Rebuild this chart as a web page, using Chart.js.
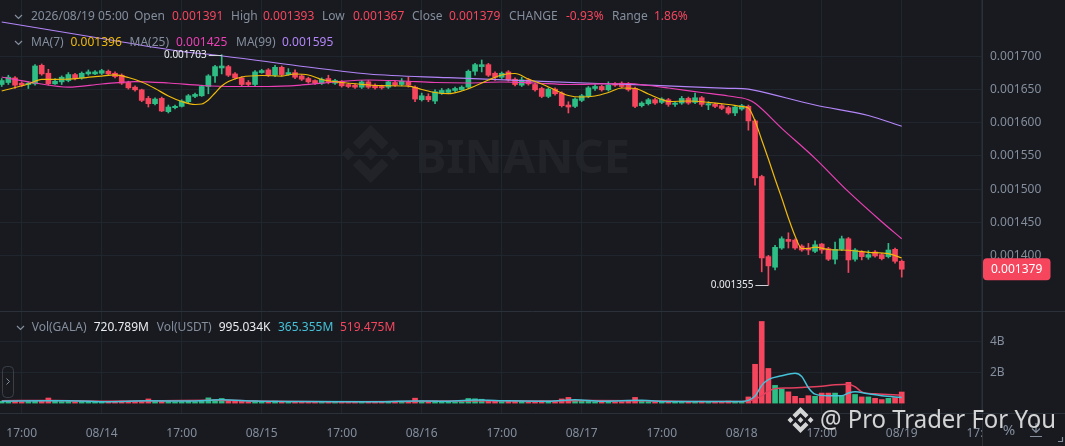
<!DOCTYPE html>
<html><head><meta charset="utf-8">
<script src="https://cdn.jsdelivr.net/npm/chart.js@4/dist/chart.umd.min.js"></script>
<style>html,body{margin:0;padding:0;background:#181a20;overflow:hidden}canvas{display:block}</style>
</head><body>
<canvas id="c" width="1065" height="446"></canvas>
<script>
// ---------- DATA (prices in millionths of USDT, 1h candles 08/13 14:00 .. 08/19 05:00) ----------
const openP  = [1658,1661,1668,1660,1658,1659,1687,1675,1659,1662,1664,1673,1668,1674,1674,1675,1678,1675,1672,1661,
1654,1650,1637,1629,1637,1617,1623,1625,1632,1640,1641,1655,1671,1683,1685,1674,1668,1661,1658,1676,
1680,1672,1684,1673,1676,1671,1667,1664,1660,1667,1660,1662,1658,1657,1654,1662,1657,1655,1654,1661,
1658,1662,1654,1635,1640,1633,1645,1646,1649,1650,1654,1678,1685,1688,1675,1669,1677,1666,1657,1665,
1658,1652,1640,1651,1645,1627,1625,1634,1640,1652,1655,1650,1659,1660,1659,1652,1626,1629,1635,1631,
1635,1628,1630,1637,1631,1638,1627,1628,1626,1623,1615,1621,1625,1603,1519,1398,1382,1411,1424,1423,
1414,1411,1406,1417,1410,1394,1409,1425,1394,1405,1397,1405,1401,1398,1409,1391];
const highP  = [1667,1672,1670,1662,1662,1688,1689,1681,1667,1671,1676,1675,1677,1680,1679,1681,1680,1677,1674,1663,
1656,1651,1640,1638,1639,1627,1627,1635,1643,1645,1657,1673,1687,1703,1687,1676,1670,1664,1679,1681,
1682,1687,1686,1682,1680,1673,1669,1665,1668,1672,1666,1664,1660,1659,1664,1664,1659,1657,1664,1663,
1667,1669,1656,1645,1644,1650,1652,1652,1654,1656,1680,1690,1695,1690,1677,1677,1679,1668,1669,1667,
1660,1654,1653,1653,1647,1632,1638,1643,1655,1658,1657,1662,1661,1662,1661,1654,1632,1637,1637,1638,
1637,1632,1640,1639,1645,1640,1632,1630,1628,1625,1626,1628,1627,1605,1521,1400,1415,1428,1434,1425,
1416,1418,1422,1418,1412,1420,1429,1427,1410,1407,1407,1407,1403,1418,1411,1393];
const lowP   = [1655,1658,1652,1655,1652,1657,1672,1657,1658,1658,1662,1665,1666,1672,1673,1673,1672,1668,1658,1651,
1648,1632,1624,1627,1617,1615,1621,1624,1630,1638,1640,1644,1661,1674,1670,1666,1656,1655,1656,1675,
1670,1670,1671,1672,1667,1664,1660,1658,1658,1659,1658,1654,1653,1652,1652,1652,1651,1651,1652,1655,
1656,1654,1632,1633,1632,1629,1643,1644,1647,1649,1652,1672,1677,1670,1664,1667,1663,1656,1655,1657,
1648,1638,1638,1642,1624,1615,1623,1632,1638,1649,1648,1648,1655,1653,1648,1623,1624,1627,1628,1629,
1625,1625,1628,1628,1629,1625,1620,1623,1620,1613,1611,1619,1589,1506,1375,1355,1378,1409,1411,1409,
1406,1401,1404,1403,1392,1387,1407,1374,1391,1393,1394,1397,1393,1396,1388,1367];
const closeP = [1664,1669,1657,1657,1660,1686,1674,1659,1663,1669,1673,1667,1675,1677,1677,1679,1674,1670,1660,1653,
1650,1634,1629,1636,1618,1624,1625,1633,1641,1643,1655,1671,1685,1686,1672,1668,1658,1658,1677,1679,
1672,1684,1673,1676,1669,1666,1662,1660,1666,1661,1664,1656,1655,1654,1662,1654,1653,1653,1662,1657,
1663,1657,1636,1641,1635,1647,1649,1650,1652,1654,1678,1688,1688,1672,1669,1675,1665,1658,1665,1659,
1650,1640,1651,1644,1626,1624,1636,1641,1653,1655,1650,1657,1657,1655,1650,1625,1630,1635,1630,1636,
1628,1630,1637,1630,1638,1628,1629,1625,1622,1615,1624,1626,1603,1517,1396,1384,1412,1425,1421,1411,
1408,1408,1416,1408,1394,1409,1425,1393,1408,1398,1401,1399,1395,1408,1391,1379];
// volume in billions GALA
const volumeB = [0.12,0.10,0.14,0.09,0.11,0.18,0.15,0.33,0.14,0.10, 0.12,0.09,0.11,0.08,0.07,0.09,0.08,0.10,0.13,0.12,
0.10,0.16,0.27,0.12,0.18,0.11,0.08,0.10,0.12,0.09, 0.16,0.34,0.22,0.30,0.17,0.12,0.14,0.09,0.15,0.08,
0.10,0.13,0.11,0.08,0.10,0.09,0.11,0.08,0.09,0.10, 0.07,0.09,0.08,0.07,0.10,0.09,0.07,0.06,0.09,0.08,
0.10,0.11,0.32,0.14,0.12,0.15,0.09,0.08,0.07,0.09, 0.30,0.28,0.25,0.18,0.12,0.10,0.14,0.11,0.12,0.09,
0.11,0.15,0.13,0.10,0.27,0.37,0.18,0.12,0.14,0.09, 0.10,0.12,0.08,0.09,0.12,0.37,0.15,0.10,0.09,0.08,
0.10,0.08,0.09,0.10,0.11,0.12,0.08,0.09,0.10,0.13, 0.11,0.09,0.40,2.52,5.30,2.25,1.15,0.90,0.73,0.44,
0.31,0.48,0.44,0.65,0.65,0.65,0.48,1.35,0.56,0.40, 0.40,0.31,0.23,0.31,0.35,0.72];
// moving-average lines: [candle index, value]
const ma7 = [[0,1648.2],[4,1658.8],[6,1665.6],[9,1665.9],[12,1667.8],[15,1670.8],[17,1672.4],[19,1668.6],[21,1661.8],[23,1652],
[25,1640.6],[27,1632.3],[29,1627.8],[30,1628.5],[31,1634.6],[32,1645.2],[33,1655.7],[34,1662.5],[36,1669.3],[39,1671.6],
[42,1670.8],[44,1673.9],[46,1672.4],[48,1665.6],[51,1661],[54,1658.3],[57,1656.2],[61,1655.7],[63,1650.5],[65,1645.9],
[67,1644.1],[69,1648.2],[71,1655.7],[73,1664.8],[75,1672.4],[77,1674.6],[79,1666.3],[81,1658.8],[83,1649.7],[85,1641.4],
[87,1639.1],[89,1640.6],[91,1645.9],[93,1652.7],[95,1652],[97,1643.7],[99,1635.3],[100,1632.3],[103,1633.1],[106,1631.1],
[109,1627.8],[111,1624.8],[112,1622.5],[113,1602.9],[114,1574.2],[115,1545.5],[116,1515.3],[117,1486.6],[118,1456.4],[119,1429.1],
[120,1410.3],[121,1410.3],[122,1412.5],[124,1408.8],[127,1407.6],[130,1404.5],[133,1402.4],[135,1396]];
const ma25 = [[0,1669.3],[5,1660.3],[10,1654.1],[15,1658.8],[20,1662.5],[25,1660.3],[30,1656.5],[35,1655],[40,1655],[45,1657.3],
[50,1661.8],[55,1664.8],[60,1663.3],[65,1661],[70,1660.3],[75,1661.8],[80,1660.3],[85,1658],[90,1658.8],[94,1659.5],
[97,1656.5],[100,1652.7],[105,1645.9],[109,1640.6],[112,1635],[113,1629.6],[117,1591.8],[122,1546.5],[127,1496.1],[132,1450.7],[135,1425]];
const ma99 = [[0,1752.4],[15,1727.5],[27,1707.9],[32,1702.6],[43,1688.2],[55,1673.9],[67,1668.3],[82,1662.2],[96,1657.3],
[109,1652.3],[112,1651],[113,1649.2],[122,1627],[130,1611.2],[135,1595]];
const volMa5 = [[0,0.12],[6,0.15],[10,0.16],[16,0.09],[22,0.15],[28,0.13],[33,0.22],[38,0.13],[45,0.10],[55,0.08],[62,0.14],[66,0.12],
[71,0.20],[76,0.15],[82,0.12],[86,0.22],[90,0.12],[96,0.18],[100,0.10],[108,0.10],[111,0.11],[112,0.18],[113,0.46],[114,1.15],
[115,1.52],[117,1.77],[119,1.94],[120,1.73],[121,1.0],[122,0.58],[124,0.48],[126,0.48],[127,0.65],[128,0.73],[130,0.60],[132,0.48],[135,0.365]];
const volMa10 = [[0,0.16],[8,0.17],[15,0.12],[24,0.15],[32,0.18],[40,0.12],[50,0.09],[60,0.10],[66,0.13],[74,0.16],[80,0.13],
[88,0.17],[96,0.16],[104,0.11],[111,0.11],[112,0.15],[113,0.25],[114,0.48],[115,0.77],[116,0.94],[118,0.98],[120,1.02],
[123,1.10],[125,1.19],[127,1.23],[128,1.06],[129,0.73],[131,0.60],[135,0.519]];
// tick labels
const timeTickIdx = [3,15,27,39,51,63,75,87,99,111,123,135,147];
const timeTickLabels = ['17:00','08/14','17:00','08/15','17:00','08/16','17:00','08/17','17:00','08/18','17:00','08/19','17:00'];
const priceTicks = [0.0014,0.00145,0.0015,0.00155,0.0016,0.00165,0.0017];
const priceTickLabels = ['0.001400','0.001450','0.001500','0.001550','0.001600','0.001650','0.001700'];
const volTicks = [2e9,4e9];
const volTickLabels = ['2B','4B'];
// header texts
const header1 = [['2026/08/19 05:00',31,'g'],['Open',134,'g'],['0.001391',172,'r'],['High',231,'g'],['0.001393',263,'r'],
['Low',322,'g'],['0.001367',353,'r'],['Close',412,'g'],['0.001379',449,'r'],['CHANGE',509,'g'],['-0.93%',566,'r'],['Range',612,'g'],['1.86%',654,'r']];
const header2 = [['MA(7)',31,'g'],['0.001396',70.5,'y'],['MA(25)',129.5,'g'],['0.001425',176,'p'],['MA(99)',236,'g'],['0.001595',282,'v']];
const header3 = [['Vol(GALA)',31.7,'g'],['720.789M',93.7,'w'],['Vol(USDT)',156.7,'g'],['995.034K',218.7,'w'],['365.355M',278,'c'],['519.475M',340,'r']];

// ---------- STYLE ----------
const U = 1e-6;
const BG='#181a20', GRID='#20262d', SEP='#2b3139', TXT='#848e9c';
const GREEN='#2ebd85', RED='#f6465d';
const C_MA7='#f0b90b', C_MA25='#eb40b5', C_MA99='#b385f8', C_VMA5='#45c1d8', C_VMA10='#e4405f';
const TCOL={g:TXT,r:RED,y:C_MA7,p:C_MA25,v:C_MA99,w:'#eaecef',c:C_VMA5};
const FONT="'Noto Sans','DejaVu Sans',sans-serif";
Chart.defaults.font.family = FONT;
Chart.defaults.font.size = 12;
Chart.defaults.color = TXT;

const idx = openP.map((_,i)=>i);
const up = i => closeP[i] >= openP[i];
const candleColors = idx.map(i => up(i) ? GREEN : RED);
const toPts = (arr, k) => arr.map(([i,v]) => ({x:i, y:v*k}));

function drawLogo(ctx, x0, y0, s, color){
  const P=[[[38.73,53.2],[63.3,28.63],[87.89,53.22],[102.19,38.92],[63.3,0],[24.42,38.9]],
           [[0,63.31],[14.3,49.01],[28.6,63.31],[14.3,77.61]],
           [[49,63.3],[63.3,49],[77.6,63.3],[63.3,77.6]],
           [[98,63.31],[112.3,49.01],[126.6,63.31],[112.3,77.61]],
           [[38.73,73.41],[63.3,97.98],[87.89,73.4],[102.2,87.69],[63.3,126.6],[24.42,87.7]]];
  ctx.save(); ctx.fillStyle=color;
  for(const poly of P){ctx.beginPath();poly.forEach(([a,b],k)=>{const X=x0+a*s,Y=y0+b*s;k?ctx.lineTo(X,Y):ctx.moveTo(X,Y);});ctx.closePath();ctx.fill();}
  ctx.restore();
}
function chevron(ctx,x,y){ctx.beginPath();ctx.moveTo(x,y-2);ctx.lineTo(x+3.5,y+1.5);ctx.lineTo(x+7,y-2);ctx.stroke();}
function textRow(ctx,row,y){for(const [t,x,c] of row){ctx.fillStyle=TCOL[c];ctx.fillText(t,x,y);}}
function noPad(s){s.paddingTop=0;s.paddingBottom=0;s.paddingLeft=0;s.paddingRight=0;}

const bgPlugin = {
  id:'bg',
  beforeDraw(chart){
    const ctx=chart.ctx; ctx.save();
    ctx.fillStyle=BG; ctx.fillRect(0,0,chart.width,chart.height);
    drawLogo(ctx,341.7,125,58/126.6,'rgba(255,255,255,0.045)');
    ctx.fillStyle='rgba(255,255,255,0.045)';
    ctx.font="bold 47px "+FONT; ctx.textBaseline='alphabetic'; ctx.textAlign='left';
    ctx.fillText('BINANCE',415,172.7,227);
    ctx.restore();
  }
};
const overlayPlugin = {
  id:'overlay',
  afterDraw(chart){
    const ctx=chart.ctx, xs=chart.scales.x, ys=chart.scales.y, yv=chart.scales.yv, ca=chart.chartArea;
    ctx.save();
    ctx.fillStyle=BG; ctx.fillRect(ca.right+1, yv.bottom+1, chart.width-ca.right, chart.height-yv.bottom);
    ctx.strokeStyle=SEP; ctx.lineWidth=1;
    ctx.beginPath();
    ctx.moveTo(0,Math.round(ys.bottom)+0.5); ctx.lineTo(chart.width,Math.round(ys.bottom)+0.5);
    ctx.moveTo(0,Math.round(yv.bottom)+0.5); ctx.lineTo(chart.width,Math.round(yv.bottom)+0.5);
    ctx.moveTo(Math.round(ca.right)+0.5,0); ctx.lineTo(Math.round(ca.right)+0.5,chart.height);
    ctx.stroke();
    ctx.font="12px "+FONT; ctx.textBaseline='middle'; ctx.textAlign='left';
    ctx.strokeStyle=TXT; ctx.lineWidth=1.2;
    chevron(ctx,15,17); chevron(ctx,15,43); chevron(ctx,17,328);
    textRow(ctx,header1,17); textRow(ctx,header2,43); textRow(ctx,header3,328);
    let hi=0, lo=0;
    idx.forEach(i=>{ if(highP[i]>highP[hi]) hi=i; if(lowP[i]<lowP[lo]) lo=i; });
    ctx.font="10px "+FONT; ctx.textAlign='right';
    for(const [i,v] of [[hi,highP[hi]],[lo,lowP[lo]]]){
      const px=xs.getPixelForValue(i), py=Math.round(ys.getPixelForValue(v*U))+0.5;
      ctx.strokeStyle='#d0d4da'; ctx.lineWidth=1;
      ctx.beginPath(); ctx.moveTo(px-13,py); ctx.lineTo(px,py); ctx.stroke();
      ctx.fillStyle='#eaecef'; ctx.fillText((v*U).toFixed(6),px-15,py);
    }
    const last=closeP[closeP.length-1], by=ys.getPixelForValue(last*U);
    ctx.fillStyle=RED; ctx.beginPath(); ctx.roundRect(ca.right+1,by-11,67.5,22,4); ctx.fill();
    ctx.fillStyle='#ffffff'; ctx.font="12px "+FONT; ctx.textAlign='left';
    ctx.fillText((last*U).toFixed(6),991,by+0.5);
    ctx.strokeStyle='#3a3f47'; ctx.lineWidth=1;
    ctx.beginPath(); ctx.roundRect(2.5,366.5,11,31,4); ctx.stroke();
    ctx.strokeStyle=TXT; ctx.beginPath(); ctx.moveTo(6.5,378.5); ctx.lineTo(9.5,381.5); ctx.lineTo(6.5,384.5); ctx.stroke();
    ctx.fillStyle=TXT; ctx.font="15px "+FONT; ctx.textAlign='center'; ctx.fillText('%',1009,431);
    ctx.strokeStyle=TXT; ctx.lineWidth=1.2; ctx.beginPath();
    ctx.moveTo(1036,423); ctx.lineTo(1036,432); ctx.moveTo(1032,428.5); ctx.lineTo(1036,432.5); ctx.lineTo(1040,428.5);
    ctx.moveTo(1030,436.5); ctx.lineTo(1042,436.5);
    ctx.moveTo(1058,441.5); ctx.lineTo(1062.5,441.5); ctx.lineTo(1062.5,437); ctx.stroke();
    drawLogo(ctx,787.5,407,26/126.6,'rgba(228,228,228,0.92)');
    ctx.fillStyle='rgba(228,228,228,0.92)'; ctx.font="25px "+FONT; ctx.textAlign='left'; ctx.textBaseline='alphabetic';
    ctx.fillText('@ Pro Trader For You',820,428,236);
    ctx.restore();
  }
};

new Chart(document.getElementById('c'), {
  type:'bar',
  data:{ datasets:[
    {type:'line', label:'MA(7)', data:toPts(ma7,U), yAxisID:'y', borderColor:C_MA7, borderWidth:1.2, pointRadius:0, cubicInterpolationMode:'monotone', order:0},
    {type:'line', label:'MA(25)', data:toPts(ma25,U), yAxisID:'y', borderColor:C_MA25, borderWidth:1.2, pointRadius:0, cubicInterpolationMode:'monotone', order:0},
    {type:'line', label:'MA(99)', data:toPts(ma99,U), yAxisID:'y', borderColor:C_MA99, borderWidth:1.2, pointRadius:0, cubicInterpolationMode:'monotone', order:0},
    {type:'line', label:'VolMA5', data:toPts(volMa5,1e9), yAxisID:'yv', borderColor:C_VMA5, borderWidth:1.5, pointRadius:0, cubicInterpolationMode:'monotone', order:0},
    {type:'line', label:'VolMA10', data:toPts(volMa10,1e9), yAxisID:'yv', borderColor:C_VMA10, borderWidth:1.5, pointRadius:0, cubicInterpolationMode:'monotone', order:0},
    {label:'body', data:idx.map(i=>({x:i,y:[openP[i]*U,closeP[i]*U]})), yAxisID:'y', backgroundColor:candleColors, barThickness:5, minBarLength:1, grouped:false, order:1},
    {label:'wick', data:idx.map(i=>({x:i,y:[lowP[i]*U,highP[i]*U]})), yAxisID:'y', backgroundColor:candleColors, barThickness:1, grouped:false, order:2},
    {label:'volume', data:idx.map(i=>({x:i,y:volumeB[i]*1e9})), yAxisID:'yv', backgroundColor:candleColors, barThickness:5, minBarLength:1, grouped:false, order:3}
  ]},
  options:{
    responsive:false, animation:false, devicePixelRatio:1,
    layout:{padding:0},
    plugins:{legend:{display:false}, tooltip:{enabled:false}},
    scales:{
      x:{type:'linear', min:-0.255, max:147.04, offset:false,
         grid:{color:GRID, drawTicks:false, offset:false}, border:{display:false},
         afterBuildTicks:s=>{s.ticks=timeTickIdx.map(v=>({value:v}));},
         afterFit:s=>{s.height=33; noPad(s);},
         ticks:{padding:13, maxRotation:0, autoSkip:false, color:TXT, callback:(v,i)=>timeTickLabels[i]}},
      y:{type:'linear', position:'right', stack:'panes', stackWeight:311,
         min:0.0017-(311-56.7)/662000, max:0.0017+56.7/662000,
         grid:{color:GRID, drawTicks:false}, border:{display:false},
         afterBuildTicks:s=>{s.ticks=priceTicks.map(v=>({value:v}));},
         afterFit:s=>{s.width=83; noPad(s);},
         ticks:{padding:8, color:TXT, callback:(v,i)=>priceTickLabels[i]}},
      yv:{type:'linear', position:'right', stack:'panes', stackWeight:102,
         min:-0.643e9, max:5.98e9,
         grid:{color:GRID, drawTicks:false}, border:{display:false},
         afterBuildTicks:s=>{s.ticks=volTicks.map(v=>({value:v}));},
         afterFit:s=>{s.width=83; noPad(s);},
         ticks:{padding:8, color:TXT, callback:(v,i)=>volTickLabels[i]}}
    }
  },
  plugins:[bgPlugin, overlayPlugin]
});
</script>
</body></html>
